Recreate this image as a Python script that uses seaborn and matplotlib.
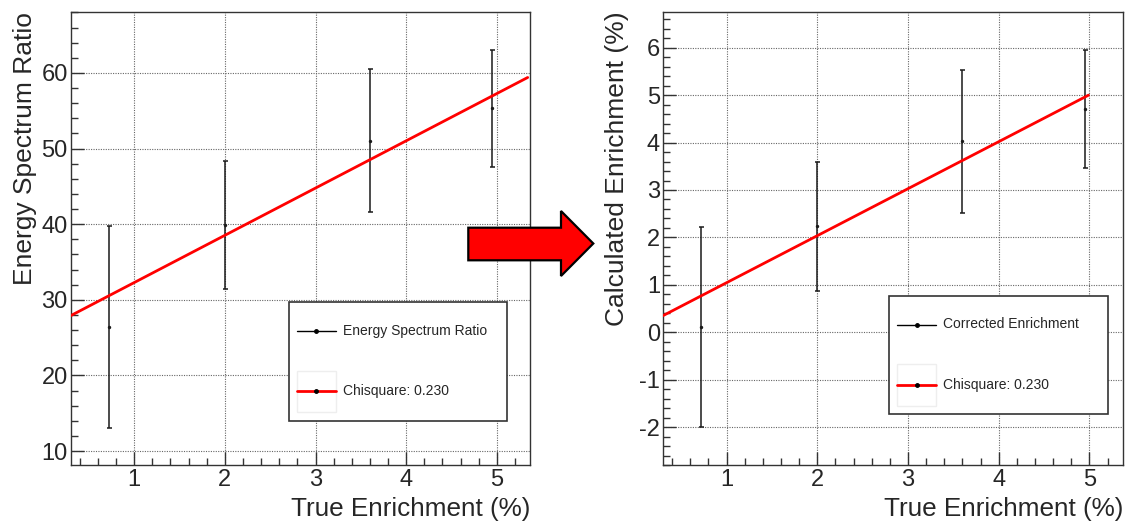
import matplotlib
matplotlib.use("Agg")
import matplotlib.pyplot as plt
from matplotlib.lines import Line2D
from matplotlib.patches import Rectangle, Polygon
from matplotlib.legend_handler import HandlerTuple, HandlerLine2D
from matplotlib.ticker import MultipleLocator
import pandas as pd
import seaborn as sns

# Measured points: true enrichment vs. spectrum ratio / corrected enrichment
true_enrichment = [0.72, 2.0, 3.6, 4.95]
spectrum_ratio = [26.4, 39.9, 51.05, 55.3]
spectrum_ratio_err = [13.3, 8.5, 9.45, 7.8]
corrected_enrichment = [0.11, 2.23, 4.03, 4.71]
corrected_enrichment_err = [2.11, 1.36, 1.51, 1.25]

# Straight-line fits, given by their end points
ratio_fit_x = [0.30, 5.34]
ratio_fit_y = [27.9, 59.4]
corrected_fit_x = [0.30, 4.99]
corrected_fit_y = [0.35, 5.00]

chisquare = 0.230

sns.set_style("white")
plt.rcParams["font.family"] = ["Liberation Sans", "DejaVu Sans"]
plt.rcParams["axes.unicode_minus"] = False

W, H = 1126, 523
fig = plt.figure(figsize=(W / 100, H / 100), dpi=100)


class CenteredLine(HandlerLine2D):
    """Line legend handler that sits in the vertical middle of a tall handle box."""

    def create_artists(self, legend, orig_handle, xdescent, ydescent, width,
                       height, fontsize, trans):
        artists = super().create_artists(legend, orig_handle, xdescent, ydescent,
                                         width, height, fontsize, trans)
        for a in artists:
            a.set_ydata([y - ydescent / 2 for y in a.get_ydata()])
        return artists


def px_axes(x0, x1, y0, y1):
    return fig.add_axes([x0 / W, (H - y1) / H, (x1 - x0) / W, (y1 - y0) / H])


panels = [
    dict(rect=(70.7, 530.4, 11.7, 465.0), y=spectrum_ratio, yerr=spectrum_ratio_err,
         fx=ratio_fit_x, fy=ratio_fit_y, ylim=(8.15, 68.1), ymaj=10, ymin=2,
         ylabel="Energy Spectrum Ratio", entry="Energy Spectrum Ratio",
         leg=(0.474, 0.0986, 0.4753, 0.2604), ylab_x=-0.074),
    dict(rect=(663.0, 1123.0, 11.7, 465.0), y=corrected_enrichment, yerr=corrected_enrichment_err,
         fx=corrected_fit_x, fy=corrected_fit_y, ylim=(-2.80, 6.76), ymaj=1, ymin=0.2,
         ylabel="Calculated Enrichment (%)", entry="Corrected Enrichment",
         leg=(0.491, 0.1118, 0.476, 0.2617), ylab_x=-0.074),
]

for p in panels:
    ax = px_axes(*p["rect"])
    df = pd.DataFrame({"x": true_enrichment, "y": p["y"], "err": p["yerr"]})
    fit = pd.DataFrame({"x": p["fx"], "y": p["fy"]})

    ax.errorbar(df["x"], df["y"], yerr=df["err"], fmt="none", ecolor="#1a1a1a",
                elinewidth=1.1, capsize=1.8, capthick=1.1, zorder=3)
    sns.scatterplot(data=df, x="x", y="y", ax=ax, color="#1a1a1a", s=6,
                    marker="o", edgecolor="#1a1a1a", linewidth=0, zorder=4)
    sns.lineplot(data=fit, x="x", y="y", ax=ax, color="#ff0000", lw=2.0, zorder=5)

    ax.set_xlim(0.30, 5.37)
    ax.set_ylim(*p["ylim"])
    ax.xaxis.set_major_locator(MultipleLocator(1))
    ax.xaxis.set_minor_locator(MultipleLocator(0.2))
    ax.yaxis.set_major_locator(MultipleLocator(p["ymaj"]))
    ax.yaxis.set_minor_locator(MultipleLocator(p["ymin"]))

    ax.tick_params(which="both", direction="in", color="#333333", width=1,
                   bottom=True, left=True, top=False, right=False, labelsize=17)
    ax.tick_params(which="major", length=9.7)
    ax.tick_params(which="minor", length=4.9)
    ax.tick_params(axis="x", pad=3.0)
    ax.tick_params(axis="y", pad=2.2)

    ax.grid(True, which="major", color="#666666", linestyle=(0, (1, 1.2)), lw=0.8)
    for s in ax.spines.values():
        s.set_color("#333333")
        s.set_linewidth(1.0)

    ax.set_xlabel("True Enrichment (%)", fontsize=18.8, loc="right")
    ax.xaxis.set_label_coords(1.0, -0.071)
    ax.set_ylabel(p["ylabel"], fontsize=19, loc="top")
    ax.yaxis.set_label_coords(p["ylab_x"], 1.0)

    h_pts = Line2D([], [], color="black", lw=1, marker="o", ms=2.5)
    h_box = Rectangle((0, 0), 1, 1, facecolor="white", edgecolor="#eeeeee", lw=1)
    h_fit = Line2D([], [], color="#ff0000", lw=2, marker="o", ms=2.5,
                   mfc="black", mec="black")
    leg = ax.legend([h_pts, (h_box, h_fit)],
                    [p["entry"], f"Chisquare: {chisquare:.3f}"],
                    handler_map={tuple: HandlerTuple(ndivide=1, pad=0),
                                 Line2D: CenteredLine()},
                    loc="upper left", bbox_to_anchor=p["leg"], mode="expand",
                    fontsize=10, frameon=True, fancybox=False, framealpha=1,
                    edgecolor="#333333", borderpad=0.6, labelspacing=1.32,
                    handlelength=2.8, handleheight=4.24, handletextpad=0.52,
                    borderaxespad=0)
    leg.get_frame().set_linewidth(1.2)

# Arrow linking the two panels
arrow_px = [(468.3, 227.7), (561.0, 227.7), (561.0, 211.0), (593.3, 243.5),
            (561.0, 276.0), (561.0, 260.3), (468.3, 260.3)]
arrow = Polygon([(x / W, (H - y) / H) for x, y in arrow_px], closed=True,
                transform=fig.transFigure, facecolor="#ff0000",
                edgecolor="black", lw=1.6, zorder=20)
fig.add_artist(arrow)

fig.savefig("out.png", dpi=100)
